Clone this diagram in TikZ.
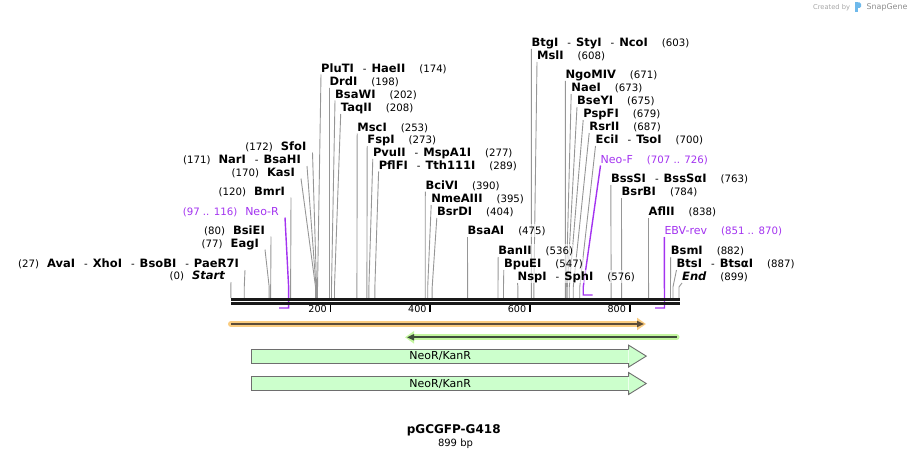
\documentclass[tikz,border=0pt]{standalone}
\usepackage{fontspec}
\setmainfont{DejaVu Sans}
\usetikzlibrary{arrows.meta,positioning,backgrounds}
\definecolor{primer}{RGB}{163,51,240}
\definecolor{sitegray}{RGB}{150,150,150}
\definecolor{orangehalo}{RGB}{250,204,128}
\definecolor{greenhalo}{RGB}{196,246,160}
\definecolor{orangecore}{RGB}{92,76,56}
\definecolor{greencore}{RGB}{62,78,58}
\definecolor{featfill}{RGB}{204,255,204}
\definecolor{featline}{RGB}{110,110,110}
\definecolor{logoblue}{RGB}{110,185,235}
\newcommand{\enz}[1]{{\fontsize{11.5}{13}\selectfont\bfseries #1}}
\newcommand{\gapl}{\hspace{8pt}}
\newcommand{\gapr}{\hspace{14pt}}
\newcommand{\sep}{\hspace{9pt}-\hspace{5pt}}
\tikzset{
    label base/.style={font=\fontsize{10.2}{12}\selectfont, text depth=0pt, inner ysep=2pt, fill=white, fill opacity=0.6, text opacity=1},
    lft/.style={label base, anchor=south east, inner xsep=6pt},
    rgt/.style={label base, anchor=south west, inner xsep=0pt},
    prm/.style={text=primer},
    site/.style={draw=sitegray, line width=0.9pt},
    primer line/.style={draw=primer, line width=1.4pt},
    seq/.style={line width=2.6pt, draw=black!90},
    tick/.style={line width=1.8pt, draw=black},
    feat/.style={fill=featfill, inner sep=0pt, minimum width=376.3pt, minimum height=14pt, font=\fontsize{11}{13}\selectfont},
    feat edge/.style={draw=featline, line width=0.9pt}
}

\begin{document}
\begin{tikzpicture}[x=1pt, y=-1pt,
    halo/.style={line width=6pt, line cap=round},
    strand/.style={line width=2.2pt}]
    \useasboundingbox (0,0) rectangle (911,460);

    \foreach \p in {0,27,77,80,97,116,120,170,171,172,174,198,202,208,253,273,277,289,390,395,404,475,536,547,576,603,608,671,673,675,679,687,700,707,726,763,784,838,851,870,882,887,899}
        \coordinate (s\p) at (230.8+0.4985*\p,287);
    \coordinate (bar) at (0,298);
    \coordinate (fwd) at (0,295);
    \coordinate (rev) at (0,308);

    % labels left of their sites
    \node[lft] (lAvaI) at (245,270) {(27)\gapl\enz{AvaI}\sep\enz{XhoI}\sep\enz{BsoBI}\sep\enz{PaeR7I}};
    \node[lft] (lStart) at (231,282) {(0)\gapl\enz{\itshape Start}};
    \node[lft] (lEagI) at (265,249.5) {(77)\gapl\enz{EagI}};
    \node[lft] (lBsiEI) at (271,236.5) {(80)\gapl\enz{BsiEI}};
    \node[lft, prm] (lNeoR) at (285,217.5) {(97 .. 116)\gapl{\fontsize{11}{13}\selectfont Neo-R}};
    \node[lft] (lBmrI) at (291,197.5) {(120)\gapl\enz{BmrI}};
    \node[lft] (lKasI) at (301,178.5) {(170)\gapl\enz{KasI}};
    \node[lft] (lNarI) at (307,166) {(171)\gapl\enz{NarI}\sep\enz{BsaHI}};
    \node[lft] (lSfoI) at (312.5,152.5) {(172)\gapl\enz{SfoI}};

    % labels right of their sites
    \node[rgt] (rPluTI) at (321,74.5) {\enz{PluTI}\sep\enz{HaeII}\gapr(174)};
    \node[rgt] (rDrdI) at (329.5,88) {\enz{DrdI}\gapr(198)};
    \node[rgt] (rBsaWI) at (335,100.5) {\enz{BsaWI}\gapr(202)};
    \node[rgt] (rTaqII) at (340.7,114) {\enz{TaqII}\gapr(208)};
    \node[rgt] (rMscI) at (357.2,133.5) {\enz{MscI}\gapr(253)};
    \node[rgt] (rFspI) at (367.2,146) {\enz{FspI}\gapr(273)};
    \node[rgt] (rPvuII) at (372.8,159) {\enz{PvuII}\sep\enz{MspA1I}\gapr(277)};
    \node[rgt] (rPflFI) at (378.6,171.5) {\enz{PflFI}\sep\enz{Tth111I}\gapr(289)};
    \node[rgt] (rBciVI) at (425.3,191.5) {\enz{BciVI}\gapr(390)};
    \node[rgt] (rNmeAIII) at (431.2,205) {\enz{NmeAIII}\gapr(395)};
    \node[rgt] (rBsrDI) at (436.8,218) {\enz{BsrDI}\gapr(404)};
    \node[rgt] (rBsaAI) at (467.5,237) {\enz{BsaAI}\gapr(475)};
    \node[rgt] (rBanII) at (498.2,257) {\enz{BanII}\gapr(536)};
    \node[rgt] (rBpuEI) at (503.8,270) {\enz{BpuEI}\gapr(547)};
    \node[rgt] (rNspI) at (517.5,283) {\enz{NspI}\sep\enz{SphI}\gapr(576)};
    \node[rgt] (rBtgI) at (531.4,49) {\enz{BtgI}\sep\enz{StyI}\sep\enz{NcoI}\gapr(603)};
    \node[rgt] (rMslI) at (537,62) {\enz{MslI}\gapr(608)};
    \node[rgt] (rNgoMIV) at (565.4,81) {\enz{NgoMIV}\gapr(671)};
    \node[rgt] (rNaeI) at (571.2,94) {\enz{NaeI}\gapr(673)};
    \node[rgt] (rBseYI) at (577,107) {\enz{BseYI}\gapr(675)};
    \node[rgt] (rPspFI) at (583.2,120) {\enz{PspFI}\gapr(679)};
    \node[rgt] (rRsrII) at (589.2,133) {\enz{RsrII}\gapr(687)};
    \node[rgt] (rEciI) at (595.5,146) {\enz{EciI}\sep\enz{TsoI}\gapr(700)};
    \node[rgt, prm] (rNeoF) at (600.5,165.5) {{\fontsize{11}{13}\selectfont Neo-F}\gapr(707 .. 726)};
    \node[rgt] (rBssSI) at (610.8,185) {\enz{BssSI}\sep\enz{BssSαI}\gapr(763)};
    \node[rgt] (rBsrBI) at (621.5,198) {\enz{BsrBI}\gapr(784)};
    \node[rgt] (rAflII) at (648.5,218) {\enz{AflII}\gapr(838)};
    \node[rgt, prm] (rEBV) at (664.3,237) {{\fontsize{11}{13}\selectfont EBV-rev}\gapr(851 .. 870)};
    \node[rgt] (rBsmI) at (670.7,257) {\enz{BsmI}\gapr(882)};
    \node[rgt] (rBtsI) at (676.5,270) {\enz{BtsI}\sep\enz{BtsαI}\gapr(887)};
    \node[rgt] (rEnd) at (682,283) {\enz{\itshape End}\gapr(899)};

    \begin{pgfonlayer}{background}
    \foreach \n/\p in {lStart/0,lAvaI/27,lEagI/77,lBsiEI/80,lBmrI/120,lKasI/170,lNarI/171,lSfoI/172}
        \draw[site] (\n.south east) -- (s\p) -- (s\p |- bar);
    \foreach \n/\p in {rPluTI/174,rDrdI/198,rBsaWI/202,rTaqII/208,rMscI/253,rFspI/273,rPvuII/277,rPflFI/289,rBciVI/390,rNmeAIII/395,rBsrDI/404,rBsaAI/475,rBanII/536,rBpuEI/547,rNspI/576,rBtgI/603,rMslI/608,rNgoMIV/671,rNaeI/673,rBseYI/675,rPspFI/679,rRsrII/687,rEciI/700,rBssSI/763,rBsrBI/784,rAflII/838,rBsmI/882,rBtsI/887,rEnd/899}
        \draw[site] (\n.south west) -- (s\p) -- (s\p |- bar);

    % primers
    \draw[primer line] (lNeoR.south east) -- (s116) -- (s116 |- rev) -- (s97 |- rev);
    \draw[primer line] (rNeoF.south west) -- (s707) -- (s707 |- fwd) -- (s726 |- fwd);
    \draw[primer line] (rEBV.south west) -- (s870 |- rev) -- (s851 |- rev);
    \end{pgfonlayer}

    % sequence
    \coordinate (seqL) at (231,299.3);
    \coordinate (seqR) at (680,299.3);
    \draw[seq] (seqL) -- (seqR);
    \draw[seq] ([yshift=-4pt]seqL) -- ([yshift=-4pt]seqR);
    \foreach \t in {200,400,600,800} {
        \draw[tick] (230.8+0.4985*\t,305) -- ++(0,6.5);
        \node[font=\fontsize{9.6}{12}\selectfont, anchor=east, inner sep=0pt] (t\t) at (227.3+0.4985*\t,309.5) {\t};
    }

    % strands
    \coordinate (o1) at (231,324);
    \coordinate (o2) at (646,324);
    \coordinate (g1) at (676.5,337.3);
    \coordinate (g2) at (405,337.3);
    \draw[halo, draw=orangehalo, -{Triangle[length=9pt,width=12pt]}] (o1) -- (o2);
    \draw[strand, draw=orangecore, -{Triangle[length=7pt,width=6pt]}] (o1) -- ([xshift=-2pt]o2);
    \draw[halo, draw=greenhalo, -{Triangle[length=9pt,width=12pt]}] (g1) -- (g2);
    \draw[strand, draw=greencore, -{Triangle[length=7pt,width=6pt]}] (g1) -- ([xshift=2pt]g2);

    % features
    \foreach \f/\y in {neo1/356.3,neo2/383.7} {
        \node[feat] (\f) at (440.2,\y) {NeoR/KanR};
        \draw[feat edge] (\f.north east) -- (\f.north west) -- (\f.south west) -- (\f.south east);
        \filldraw[feat edge, fill=featfill] (\f.north east) -- ++(0,-4) -- ++(17.7,11) -- ++(-17.7,11) -- ++(0,-4);
    }

    \node[font=\fontsize{12}{14}\selectfont\bfseries] (title) at (453.7,430.5) {pGCGFP-G418};
    \node[font=\fontsize{10}{12}\selectfont] (size) at (455.5,444) {899 bp};

    \node[font=\fontsize{6.7}{8}\selectfont, text=black!35, anchor=west, inner sep=0pt] (made) at (813,7.5) {Created by};
    \fill[logoblue] (855.3,2.5) rectangle (857.5,12);
    \fill[logoblue, rounded corners=1.5pt] (855.3,2.5) -- (861,2.5) -- (861,8) -- (855.3,8) -- cycle;
    \node[font=\fontsize{7.9}{9}\selectfont, text=black!45, anchor=west, inner sep=0pt] (sg) at (866.5,7) {SnapGene};
\end{tikzpicture}
\end{document}
